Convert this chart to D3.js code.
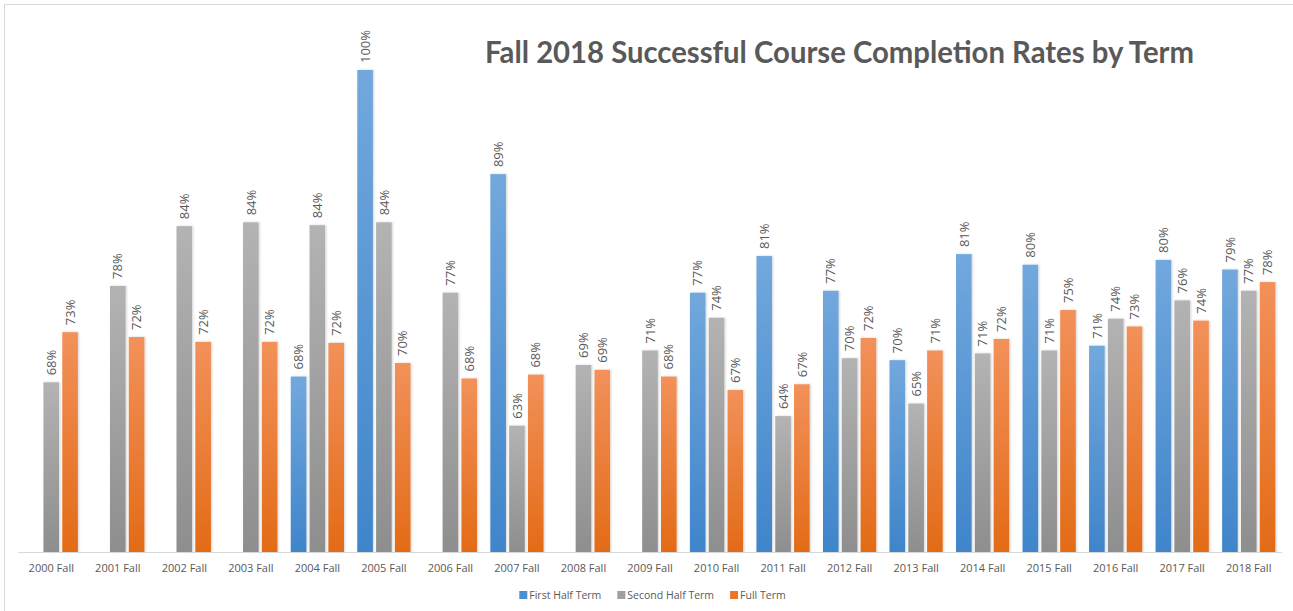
<!DOCTYPE html>
<html lang="en">
<head>
  <meta charset="UTF-8">
  <title>Fall 2018 Successful Course Completion Rates by Term</title>
  <script src="https://d3js.org/d3.v7.min.js"></script>
  <style>
    body {
      margin: 0;
      padding: 0;
      background: #fff;
      font-family: "Open Sans", Arial, sans-serif;
    }
    svg { display: block; }
  </style>
</head>
<body>
  <div id="chart"></div>
  <script>
    const width = 1293;
    const height = 611;

    // data (null = no bar)
    const terms = ["2000 Fall", "2001 Fall", "2002 Fall", "2003 Fall", "2004 Fall", "2005 Fall", "2006 Fall",
      "2007 Fall", "2008 Fall", "2009 Fall", "2010 Fall", "2011 Fall", "2012 Fall", "2013 Fall",
      "2014 Fall", "2015 Fall", "2016 Fall", "2017 Fall", "2018 Fall"];
    const firstHalf = [null, null, null, null, 0.682, 1.00, null, 0.892, null, null,
      0.769, 0.807, 0.771, 0.699, 0.809, 0.798, 0.714, 0.803, 0.793];
    const secondHalf = [0.676, 0.776, 0.838, 0.842, 0.839, 0.842, 0.769, 0.631, 0.694, 0.709,
      0.743, 0.641, 0.701, 0.654, 0.706, 0.709, 0.742, 0.761, 0.771];
    const fullTerm = [0.728, 0.723, 0.718, 0.718, 0.717, 0.696, 0.680, 0.684, 0.689, 0.682,
      0.668, 0.674, 0.722, 0.709, 0.721, 0.751, 0.734, 0.740, 0.780];
    const seriesNames = ["First Half Term", "Second Half Term", "Full Term"];

    const series = [firstHalf, secondHalf, fullTerm];
    const colors = [
      { top: "#72a8dd", bottom: "#3f85ca", legend: "#4a8fd3" },
      { top: "#b3b3b3", bottom: "#8e8e8e", legend: "#a0a0a0" },
      { top: "#f2915a", bottom: "#e36b17", legend: "#ec7628" }
    ];

    const textColor = "#595959";
    const plot = { left: 18, right: 1282, top: 70, bottom: 552 };

    const svg = d3.select("#chart")
      .append("svg")
      .attr("width", width)
      .attr("height", height);

    const defs = svg.append("defs");
    colors.forEach((c, i) => {
      const g = defs.append("linearGradient")
        .attr("id", "grad" + i)
        .attr("x1", 0).attr("y1", 0).attr("x2", 0).attr("y2", 1);
      g.append("stop").attr("offset", "0%").attr("stop-color", c.top);
      g.append("stop").attr("offset", "100%").attr("stop-color", c.bottom);
    });
    defs.append("filter")
      .attr("id", "shadow")
      .attr("x", "-30%").attr("y", "-5%").attr("width", "160%").attr("height", "110%")
      .append("feDropShadow")
      .attr("dx", 1).attr("dy", 0).attr("stdDeviation", 0.8)
      .attr("flood-color", "#000").attr("flood-opacity", 0.18);

    // chart frame (only top/left edges fall inside the window)
    svg.append("rect")
      .attr("x", 4.5).attr("y", 4.5)
      .attr("width", width + 20).attr("height", height + 20)
      .attr("fill", "none")
      .attr("stroke", "#d9d9d9");

    const x0 = d3.scaleBand()
      .domain(terms)
      .range([plot.left, plot.right])
      .paddingInner(0.2)
      .paddingOuter(0.1);

    const x1 = d3.scaleBand()
      .domain(d3.range(series.length))
      .range([0, x0.bandwidth()])
      .paddingInner(0.17);

    const y = d3.scaleLinear()
      .domain([0.5, 1.0])
      .range([plot.bottom, plot.top]);

    const fmt = d3.format(".0%");

    const bars = [];
    terms.forEach((t, i) => {
      series.forEach((s, k) => {
        if (s[i] != null) bars.push({ term: t, k: k, value: s[i] });
      });
    });

    svg.append("g")
      .selectAll("rect")
      .data(bars)
      .join("rect")
      .attr("x", d => x0(d.term) + x1(d.k))
      .attr("y", d => y(d.value))
      .attr("width", x1.bandwidth())
      .attr("height", d => y(0.5) - y(d.value))
      .attr("fill", d => `url(#grad${d.k})`)
      .attr("filter", "url(#shadow)");

    // baseline
    svg.append("line")
      .attr("x1", plot.left).attr("x2", plot.right)
      .attr("y1", plot.bottom + 0.5).attr("y2", plot.bottom + 0.5)
      .attr("stroke", "#d9d9d9")
      .attr("stroke-width", 1.2);

    // value labels, rotated
    svg.append("g")
      .selectAll("text")
      .data(bars)
      .join("text")
      .attr("transform", d => {
        const cx = x0(d.term) + x1(d.k) + x1.bandwidth() / 2;
        return `translate(${cx},${y(d.value) - 7}) rotate(-90)`;
      })
      .attr("dy", "0.36em")
      .attr("font-size", 13)
      .attr("fill", textColor)
      .text(d => fmt(d.value));

    // category labels
    const xAxis = svg.append("g")
      .attr("transform", `translate(0,${plot.bottom})`)
      .call(d3.axisBottom(x0).tickSize(0).tickPadding(0));
    xAxis.select(".domain").remove();
    xAxis.selectAll("text")
      .attr("y", 20)
      .attr("dy", 0)
      .attr("font-family", "'Open Sans', Arial, sans-serif")
      .attr("font-size", 11)
      .attr("fill", textColor);

    // title
    svg.append("text")
      .attr("x", 485)
      .attr("y", 63)
      .attr("font-family", "Lato, 'Open Sans', sans-serif")
      .attr("font-weight", "bold")
      .attr("font-size", 30)
      .attr("fill", textColor)
      .attr("textLength", 709)
      .attr("lengthAdjust", "spacingAndGlyphs")
      .text("Fall 2018 Successful Course Completion Rates by Term");

    // legend
    const legend = svg.append("g");
    let lx = 0;
    seriesNames.forEach((name, k) => {
      const item = legend.append("g").attr("transform", `translate(${lx},0)`);
      item.append("rect")
        .attr("x", 0).attr("y", -8)
        .attr("width", 8).attr("height", 8)
        .attr("fill", colors[k].legend);
      const t = item.append("text")
        .attr("x", 10)
        .attr("y", 0)
        .attr("font-size", 10.5)
        .attr("fill", textColor)
        .text(name);
      lx += 10 + t.node().getComputedTextLength() + 16;
    });
    const legendWidth = lx - 16;
    legend.attr("transform", `translate(${(521 + 784) / 2 - legendWidth / 2},599)`);
  </script>
</body>
</html>
